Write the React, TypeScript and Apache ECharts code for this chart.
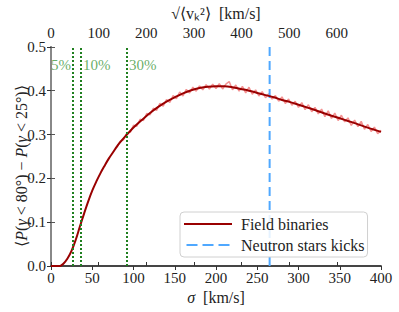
import React, { useEffect, useRef } from "react";
import * as echarts from "echarts";

// Smooth fitted curve (sigma in km/s, value)
const sigmaFit = [0, 5, 10, 12, 15, 20, 25, 30, 35, 40, 45, 50, 55, 60, 65, 70, 75, 80, 85, 90, 95, 100, 110, 120, 130, 140, 150, 160, 170, 180, 190, 200, 210, 220, 230, 240, 250, 260, 270, 280, 290, 300, 310, 320, 330, 340, 350, 360, 370, 380, 390, 400];
const valueFit = [0, 0, 0, 0.001, 0.005, 0.017, 0.035, 0.06, 0.09, 0.119, 0.147, 0.172, 0.193, 0.212, 0.229, 0.245, 0.259, 0.273, 0.285, 0.296, 0.306, 0.316, 0.333, 0.349, 0.363, 0.375, 0.385, 0.394, 0.401, 0.406, 0.409, 0.41, 0.41, 0.408, 0.404, 0.4, 0.395, 0.39, 0.385, 0.379, 0.374, 0.368, 0.362, 0.356, 0.349, 0.343, 0.337, 0.331, 0.325, 0.318, 0.312, 0.306];

// Raw (noisy) simulation points
const sigmaRaw = [80, 84, 88, 92, 96, 100, 104, 108, 112, 116, 120, 124, 128, 132, 136, 140, 144, 148, 152, 156, 160, 164, 168, 172, 176, 180, 184, 188, 192, 196, 200, 204, 208, 212, 216, 220, 224, 228, 232, 236, 240, 244, 248, 252, 256, 260, 264, 268, 272, 276, 280, 284, 288, 292, 296, 300, 304, 308, 312, 316, 320, 324, 328, 332, 336, 340, 344, 348, 352, 356, 360, 364, 368, 372, 376, 380, 384, 388, 392, 396, 400];
const valueRaw = [0.271, 0.285, 0.288, 0.304, 0.305, 0.321, 0.319, 0.335, 0.332, 0.348, 0.345, 0.36, 0.355, 0.371, 0.365, 0.38, 0.373, 0.389, 0.382, 0.397, 0.388, 0.403, 0.395, 0.408, 0.399, 0.411, 0.402, 0.414, 0.404, 0.415, 0.405, 0.416, 0.404, 0.415, 0.421, 0.402, 0.413, 0.399, 0.41, 0.395, 0.408, 0.392, 0.402, 0.388, 0.398, 0.384, 0.393, 0.381, 0.389, 0.376, 0.386, 0.371, 0.381, 0.367, 0.376, 0.362, 0.373, 0.357, 0.368, 0.352, 0.362, 0.347, 0.358, 0.341, 0.354, 0.337, 0.349, 0.332, 0.344, 0.329, 0.338, 0.321, 0.333, 0.318, 0.33, 0.312, 0.323, 0.307, 0.317, 0.302, 0.31];

// Reference lines
const thresholdSigma = [26.7, 36.4, 92];
const thresholdLabels = ["5%", "10%", "30%"];
const thresholdLabelPos = ["left", "right", "right"];
const thresholdLabelY = 0.459;
const nsKickSigma = 265;

const bottomTicks = [0, 50, 100, 150, 200, 250, 300, 350, 400];
const topTicks = [0, 100, 200, 300, 400, 500, 600];

const FONT = "Liberation Serif";

export default function App() {
  const ref = useRef<HTMLDivElement>(null);
  useEffect(() => {
    document.body.style.margin = "0";
    if (!ref.current) return;
    const chart = echarts.init(ref.current, undefined, { renderer: "svg" });
    const sigmaMax = bottomTicks[bottomTicks.length - 1];
    const topMax = sigmaMax * Math.sqrt(3);
    chart.setOption({
      animation: false,
      backgroundColor: "#fff",
      textStyle: { fontFamily: FONT },
      grid: { left: 51, right: 18, top: 46, bottom: 46 },
      graphic: [
        {
          type: "text",
          x: 21,
          y: 166,
          rotation: Math.PI / 2,
          style: {
            text: "⟨{i|P}({i|γ} < 80°) − {i|P}({i|γ} < 25°)⟩",
            fontFamily: FONT,
            fontSize: 16,
            fill: "#222",
            align: "center",
            verticalAlign: "middle",
            rich: { i: { fontStyle: "italic", fontFamily: FONT, fontSize: 16, fill: "#222" } },
          },
        },
      ],
      legend: {
        orient: "vertical",
        left: 180,
        top: 212,
        padding: [4, 3, 4, 4],
        itemGap: 5,
        itemWidth: 48,
        itemHeight: 2,
        backgroundColor: "rgba(255,255,255,0.85)",
        borderColor: "#d0d0d0",
        borderWidth: 1,
        borderRadius: 4,
        data: [
          { name: "Field binaries", icon: "path://M0,0h48v2h-48z" },
          { name: "Neutron stars kicks", icon: "path://M0,0h11v2h-11z M16,0h11v2h-11z M32,0h11v2h-11z" },
        ],
        textStyle: { fontFamily: FONT, fontSize: 16, color: "#222", padding: [0, 0, 0, 4] },
      },
      xAxis: [
        {
          type: "value",
          position: "bottom",
          min: 0,
          max: sigmaMax,
          interval: 50,
          name: "{i|σ}  [km/s]",
          nameLocation: "middle",
          nameGap: 22,
          nameTextStyle: {
            fontFamily: FONT,
            fontSize: 16,
            color: "#222",
            rich: { i: { fontStyle: "italic", fontFamily: FONT, fontSize: 16 } },
          },
          axisLine: { lineStyle: { color: "#555", width: 1.5 } },
          axisTick: { inside: false, length: 4, lineStyle: { color: "#333" } },
          axisLabel: { fontFamily: FONT, fontSize: 15, color: "#222", margin: 4 },
          splitLine: { show: false },
        },
        {
          type: "value",
          position: "top",
          min: 0,
          max: topMax,
          interval: 100,
          name: "√⟨vₖ²⟩  [km/s]",
          nameLocation: "middle",
          nameGap: 24,
          nameTextStyle: { fontFamily: FONT, fontSize: 16, color: "#222" },
          axisLine: { lineStyle: { color: "#333", width: 1.5 } },
          axisTick: { inside: false, length: 4, lineStyle: { color: "#333" } },
          axisLabel: {
            fontFamily: FONT,
            fontSize: 15,
            color: "#222",
            margin: 6,
            showMaxLabel: false,
            formatter: (v: number) => (topTicks.includes(Math.round(v)) ? String(Math.round(v)) : ""),
          },
          splitLine: { show: false },
        },
      ],
      yAxis: [
        {
          type: "value",
          min: 0,
          max: 0.5,
          interval: 0.1,
          axisLine: { show: true, lineStyle: { color: "#111", width: 1.5 } },
          axisTick: { show: true, inside: false, length: 4, lineStyle: { color: "#333" } },
          axisLabel: { fontFamily: FONT, fontSize: 15, color: "#222", margin: 5, formatter: (v: number) => v.toFixed(1) },
          splitLine: { show: false },
        },
        {
          type: "value",
          position: "right",
          min: 0,
          max: 0.5,
          interval: 0.1,
          axisLine: { show: true, lineStyle: { color: "#888", width: 2 } },
          axisTick: { show: true, inside: false, length: 4, lineStyle: { color: "#555" } },
          axisLabel: { show: false },
          splitLine: { show: false },
        },
      ],
      series: [
        {
          name: "raw",
          type: "line",
          xAxisIndex: 0,
          yAxisIndex: 0,
          data: sigmaRaw.map((s, i) => [s, valueRaw[i]]),
          showSymbol: false,
          symbol: "none",
          lineStyle: { color: "rgba(240,100,100,0.7)", width: 1.5 },
          z: 2,
          silent: true,
        },
        {
          name: "Field binaries",
          type: "line",
          xAxisIndex: 0,
          yAxisIndex: 0,
          data: sigmaFit.map((s, i) => [s, valueFit[i]]),
          smooth: 0.4,
          showSymbol: false,
          symbol: "none",
          itemStyle: { color: "#990000" },
          lineStyle: { color: "#990000", width: 2 },
          z: 3,
        },
        {
          name: "Neutron stars kicks",
          type: "line",
          xAxisIndex: 0,
          yAxisIndex: 0,
          data: [
            [nsKickSigma, 0],
            [nsKickSigma, 0.5],
          ],
          showSymbol: false,
          symbol: "none",
          itemStyle: { color: "#4fa8ff" },
          lineStyle: { color: "#4fa8ff", width: 2, type: [9, 5] },
          z: 2,
        },
        {
          name: "thresholds",
          type: "scatter",
          xAxisIndex: 0,
          yAxisIndex: 0,
          symbolSize: 0,
          silent: true,
          data: thresholdSigma.map((s, i) => ({
            value: [s, thresholdLabelY],
            label: {
              show: true,
              position: thresholdLabelPos[i],
              distance: 2,
              formatter: thresholdLabels[i],
              color: "#3f9a3f",
              fontFamily: FONT,
              fontSize: 15,
            },
          })),
          markLine: {
            silent: true,
            symbol: "none",
            label: { show: false },
            lineStyle: { color: "#1f7f1f", width: 2, type: [2, 2] },
            data: thresholdSigma.map((s) => ({ xAxis: s })),
          },
          z: 1,
        },
      ],
    });
    return () => chart.dispose();
  }, []);
  return <div ref={ref} style={{ width: 399, height: 312 }} />;
}
